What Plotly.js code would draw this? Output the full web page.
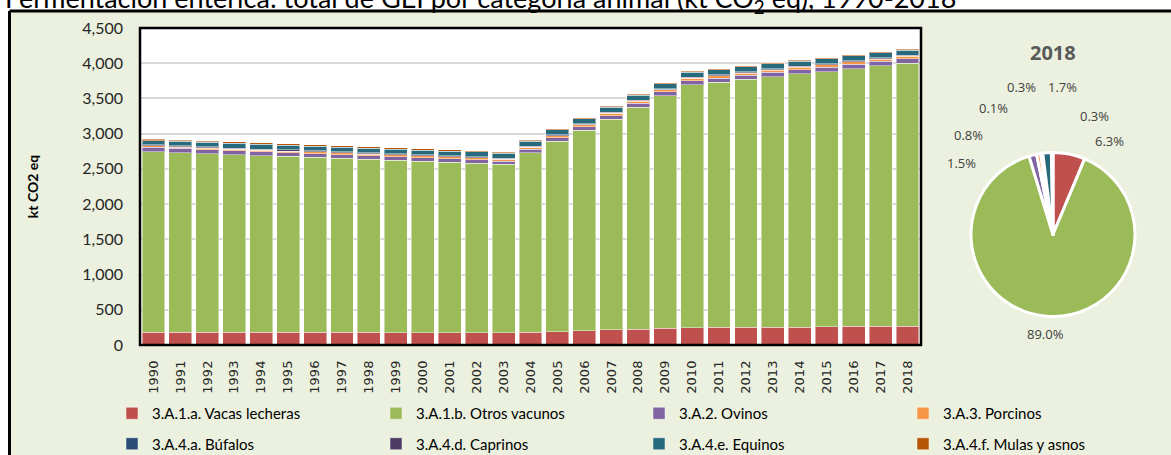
<!DOCTYPE html>
<html>
<head>
<meta charset="utf-8">
<script src="https://cdn.plot.ly/plotly-3.0.1.min.js"></script>
<style>html,body{margin:0;padding:0;background:#fff;}#chart{width:1171px;height:455px;}</style>
</head>
<body>
<div id="chart"></div>
<script>
const years = ['1990','1991','1992','1993','1994','1995','1996','1997','1998','1999','2000','2001','2002','2003','2004','2005','2006','2007','2008','2009','2010','2011','2012','2013','2014','2015','2016','2017','2018'];

const vacasLecheras = [178,178,178,178,178,178,178,178,178,172,172,172,172,172,178,190,203,220,226,238,248,250,252,252,253,262,263,264,265];
const otrosVacunos = [2568,2552,2539,2524,2508,2499,2489,2476,2460,2451,2439,2425,2411,2393,2554,2705,2848,2986,3152,3301,3450,3480,3517,3559,3597,3619,3660,3700,3737];
const ovinos = [62,60,58,56,55,52,50,48,46,48,46,44,44,42,44,45,47,50,52,54,56,57,58,59,60,61,62,62,63];
const porcinos = [18,19,20,21,22,23,24,25,26,27,28,28,29,29,29,30,30,31,31,32,32,32,33,33,33,34,34,34,34];
const bufalos = [2,2,2,2,2,2,2,2,3,3,3,3,3,3,3,3,3,3,3,3,3,3,4,4,4,4,4,4,4];
const caprinos = [16,16,15,15,15,15,14,14,14,14,13,13,13,13,13,13,13,13,13,13,13,13,13,13,13,13,13,13,13];
const equinos = [58,62,64,68,70,68,66,66,68,66,66,68,68,70,68,70,70,72,70,68,70,70,70,70,70,70,70,71,71];
const mulasAsnos = [20,19,19,18,18,18,17,17,17,16,16,16,15,15,15,15,15,15,14,14,14,14,14,14,13,13,13,13,13];

const seriesNames = ['3.A.1.a. Vacas lecheras','3.A.1.b. Otros vacunos','3.A.2. Ovinos','3.A.3. Porcinos','3.A.4.a. Búfalos','3.A.4.d. Caprinos','3.A.4.e. Equinos','3.A.4.f. Mulas y asnos'];
const seriesData = [vacasLecheras, otrosVacunos, ovinos, porcinos, bufalos, caprinos, equinos, mulasAsnos];
const seriesColors = ['#C0504D','#9BBB59','#8064A2','#F79646','#2C4D75','#4D3B62','#276A7C','#B65708'];

const pieYear = '2018';

// layout: legend column per series (legend ids) and pie label anchor points (pixels)
const legendIds = ['legend','legend2','legend3','legend4','legend','legend2','legend3','legend4'];
const pieLabelXY = [[1109,141],[1045,334],[961,163],[968,135],[993,108],[1021,87],[1062,87],[1094,116]];

const W = 1171, H = 455;
const px = v => v / W;
const py = v => 1 - v / H;

const traces = seriesNames.map((name, i) => ({
  type: 'bar',
  name: name,
  x: years,
  y: seriesData[i],
  marker: {color: seriesColors[i], line: {color: 'rgba(255,255,255,0.45)', width: 1}},
  legend: legendIds[i],
  legendgroup: 'g' + i,
  hoverinfo: 'x+y+name'
}));

const pieIndex = years.indexOf(pieYear);
const pieValues = seriesData.map(s => s[pieIndex]);
const pieTotal = pieValues.reduce((a, b) => a + b, 0);
traces.push({
  type: 'pie',
  labels: seriesNames,
  values: pieValues,
  marker: {colors: seriesColors, line: {color: '#FFFFFF', width: 3}},
  sort: false,
  direction: 'clockwise',
  rotation: 0,
  textinfo: 'none',
  showlegend: false,
  domain: {x: [px(971), px(1135)], y: [py(317), py(152)]}
});

const pieLabels = pieValues.map((v, i) => ({
  text: (v / pieTotal * 100).toFixed(1) + '%',
  xref: 'paper', yref: 'paper',
  x: px(pieLabelXY[i][0]), y: py(pieLabelXY[i][1]),
  xanchor: 'center', yanchor: 'middle', showarrow: false,
  font: {family: 'Open Sans', size: 13, color: '#404040'}
}));

const legendCommon = {
  orientation: 'v',
  xanchor: 'left',
  yanchor: 'top',
  y: py(397),
  bgcolor: 'rgba(0,0,0,0)',
  traceorder: 'grouped',
  tracegroupgap: 8,
  font: {family: 'Lato', size: 15, color: '#000000'}
};

const layout = {
  width: W, height: H,
  margin: {l: 0, r: 0, t: 0, b: 0, autoexpand: false},
  paper_bgcolor: '#EBF1DE',
  plot_bgcolor: '#FFFFFF',
  barmode: 'stack',
  bargap: 0.15,
  showlegend: true,
  legend: Object.assign({}, legendCommon, {x: px(112)}),
  legend2: Object.assign({}, legendCommon, {x: px(376)}),
  legend3: Object.assign({}, legendCommon, {x: px(639)}),
  legend4: Object.assign({}, legendCommon, {x: px(903)}),
  xaxis: {
    domain: [px(140), px(921)],
    type: 'category',
    range: [-0.5, 28.5],
    tickangle: -90,
    ticks: '',
    ticklabelstandoff: 12,
    tickfont: {family: 'DejaVu Sans', size: 13, color: '#262626'},
    showgrid: false,
    zeroline: false,
    showline: false,
    fixedrange: true
  },
  yaxis: {
    domain: [py(345), py(28)],
    range: [0, 4500],
    dtick: 500,
    tickformat: ',d',
    ticks: '',
    ticklabelstandoff: 16,
    tickfont: {family: 'Lato', size: 16, color: '#262626'},
    showgrid: true,
    gridcolor: '#D9D9D9',
    gridwidth: 2,
    zeroline: false,
    showline: false,
    fixedrange: true,
    title: {text: 'kt CO2 eq', font: {family: 'Lato', size: 14, color: '#000000', weight: 'bold'}, standoff: 40}
  },
  shapes: [
    {type: 'rect', xref: 'paper', yref: 'paper', x0: 0, x1: 1, y0: py(11), y1: 1, fillcolor: '#FFFFFF', line: {width: 0}, layer: 'below'},
    {type: 'rect', xref: 'paper', yref: 'paper', x0: 0, x1: px(9), y0: 0, y1: 1, fillcolor: '#FFFFFF', line: {width: 0}, layer: 'below'},
    {type: 'line', xref: 'paper', yref: 'paper', x0: px(9.5), x1: 1.01, y0: py(11), y1: py(11), line: {color: '#000000', width: 3}},
    {type: 'line', xref: 'paper', yref: 'paper', x0: px(9.5), x1: px(9.5), y0: -0.01, y1: py(11), line: {color: '#000000', width: 3}},
    {type: 'rect', xref: 'x domain', yref: 'y domain', x0: 0, x1: 1, y0: 0, y1: 1, line: {color: '#000000', width: 2.5}, layer: 'above'}
  ],
  annotations: [
    {text: 'Fermentación entérica: total de GEI por categoría animal (kt CO<sub>2</sub> eq), 1990-2018', xref: 'paper', yref: 'paper', x: px(3), y: py(-0.5), xanchor: 'left', yanchor: 'middle', showarrow: false, font: {family: 'Lato', size: 27, color: '#000000'}},
    {text: '<b>' + pieYear + '</b>', xref: 'paper', yref: 'paper', x: px(1053), y: py(52), xanchor: 'center', yanchor: 'middle', showarrow: false, font: {family: 'Open Sans', size: 20, color: '#595959'}}
  ].concat(pieLabels)
};

Plotly.newPlot('chart', traces, layout, {displayModeBar: false, staticPlot: true});
</script>
</body>
</html>
